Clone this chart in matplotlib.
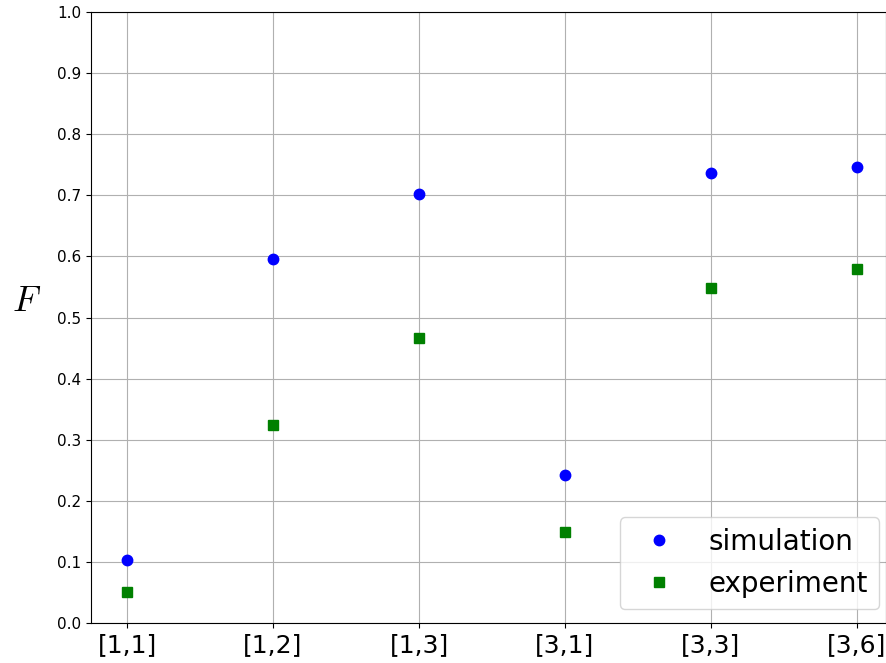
import matplotlib
matplotlib.use("Agg")
import matplotlib.pyplot as plt
import numpy as np

plt.rcParams["mathtext.fontset"] = "cm"

labels = ["[1,1]", "[1,2]", "[1,3]", "[3,1]", "[3,3]", "[3,6]"]
simulation = [0.103, 0.595, 0.702, 0.243, 0.736, 0.747]
experiment = [0.051, 0.324, 0.466, 0.149, 0.548, 0.579]

x = np.arange(len(labels))

fig = plt.figure(figsize=(8.87, 6.63), dpi=100)
ax = fig.add_axes([0.1026, 0.0603, 0.8964, 0.9216])

ax.plot(x, simulation, "o", color="blue", markersize=7.5, label="simulation")
ax.plot(x, experiment, "s", color="green", markersize=7, label="experiment")

ax.set_xticks(x)
ax.set_xticklabels(labels, fontsize=18)
ax.set_yticks(np.arange(0, 1.01, 0.1))
ax.tick_params(axis="y", labelsize=11)
ax.set_xlim(-0.247, 5.2)
ax.set_ylim(0, 1)
ax.grid(True)
ax.set_ylabel("$F$", fontsize=26, rotation=0, labelpad=22)
ax.legend(loc="lower right", fontsize=20, bbox_to_anchor=(1.0088, 0.0))

fig.savefig("out.png", dpi=100)
